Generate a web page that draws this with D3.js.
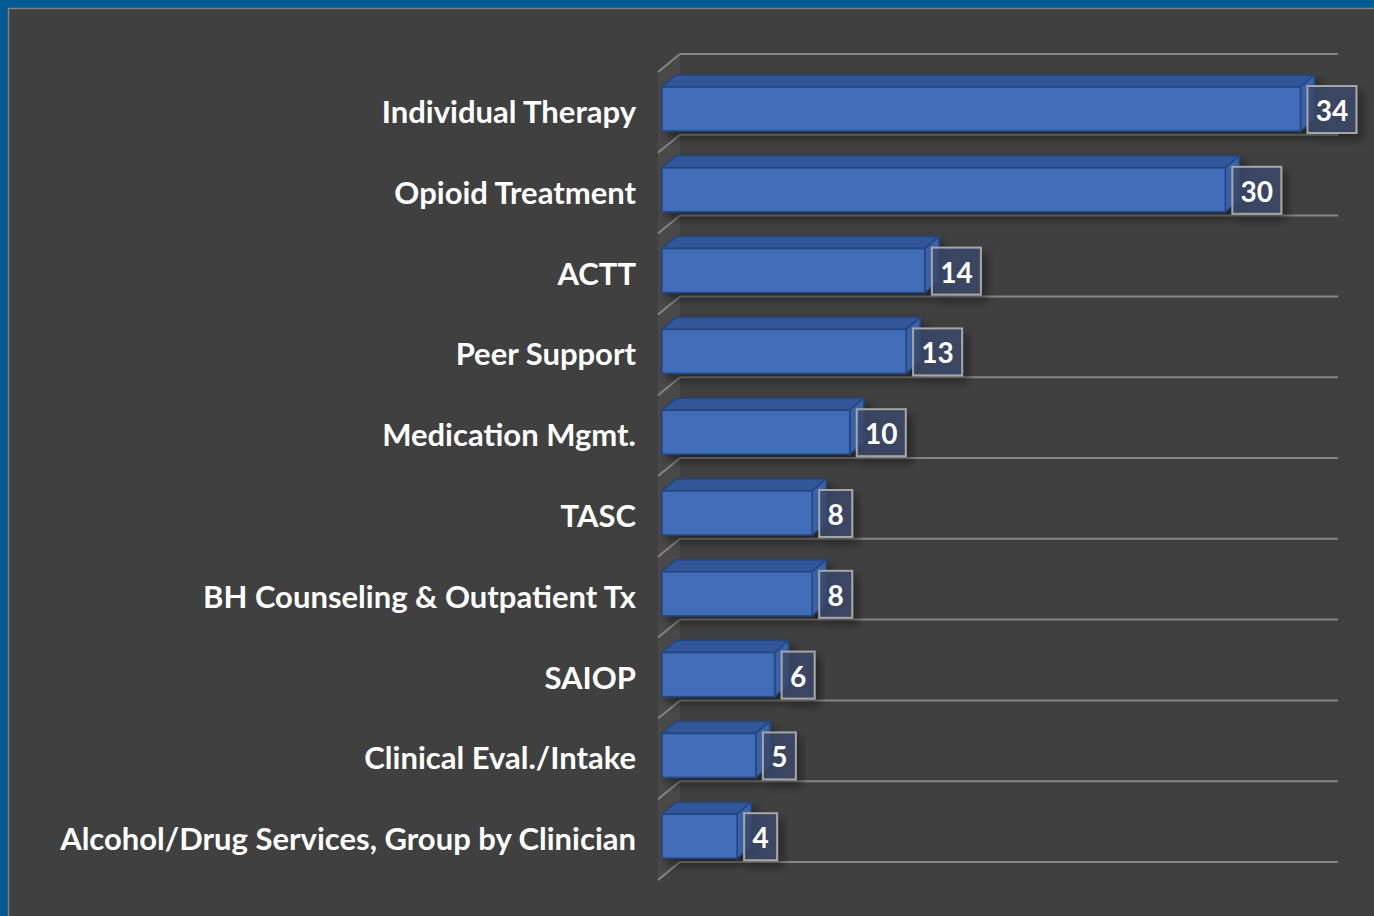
<!DOCTYPE html>
<html>
<head>
  <script src="https://d3js.org/d3.v7.min.js"></script>
  <style>
    body { margin: 0; background: #005a94; }
    .cat-label { font-family: Lato, "Open Sans", sans-serif; font-weight: bold; font-size: 31px; fill: #fff; }
    .val-label { font-family: Lato, "Open Sans", sans-serif; font-weight: bold; font-size: 28px; fill: #fff; }
  </style>
</head>
<body>
  <svg id="chart"></svg>
  <script>
    var categories = ["Individual Therapy", "Opioid Treatment", "ACTT", "Peer Support", "Medication Mgmt.",
      "TASC", "BH Counseling & Outpatient Tx", "SAIOP", "Clinical Eval./Intake", "Alcohol/Drug Services, Group by Clinician"];
    var values = [34, 30, 14, 13, 10, 8, 8, 6, 5, 4];

    var width = 1374, height = 916;
    var depthX = 14, depthY = -12;

    var svg = d3.select("#chart").attr("width", width).attr("height", height);

    var defs = svg.append("defs");
    var shadow = defs.append("filter").attr("id", "shadow")
      .attr("x", "-30%").attr("y", "-30%").attr("width", "160%").attr("height", "160%");
    shadow.append("feDropShadow").attr("dx", 5).attr("dy", 6).attr("stdDeviation", 5)
      .attr("flood-color", "#000").attr("flood-opacity", 0.45);

    // panel
    svg.append("rect")
      .attr("x", 8.5).attr("y", 8.5).attr("width", width).attr("height", height)
      .attr("fill", "#404040").attr("stroke", "#808080").attr("stroke-width", 1.5);

    var x = d3.scaleLinear().domain([0, 36]).range([662, 1338]);
    var y = d3.scaleBand().domain(categories).range([54, 862]).paddingInner(0);

    // left wall
    svg.append("path")
      .attr("d", "M658,72 L680,54 L680,862 L658,880 Z")
      .attr("fill", "#4a4848");

    // gridlines on back wall + diagonals
    var gridYs = categories.map(d => y(d)).concat([y.range()[1]]);
    var grid = svg.append("g");
    grid.selectAll(".grid-h")
      .data(gridYs)
      .enter()
      .append("line")
      .attr("x1", 680).attr("x2", x(36))
      .attr("y1", d => d).attr("y2", d => d)
      .attr("stroke", "#858585").attr("stroke-width", 2);
    grid.selectAll(".grid-d")
      .data(gridYs)
      .enter()
      .append("line")
      .attr("x1", 658).attr("x2", 680)
      .attr("y1", d => d + 18).attr("y2", d => d)
      .attr("stroke", "#858585").attr("stroke-width", 2);

    // bars
    var bars = svg.selectAll(".bar")
      .data(values)
      .enter()
      .append("g")
      .attr("class", "bar")
      .attr("filter", "url(#shadow)");

    var barTop = (d, i) => y(categories[i]) + 33;
    var barH = 44;

    // top face
    bars.append("path")
      .attr("d", function(d, i) {
        var x0 = x(0), x1 = x(d), t = barTop(d, i);
        return "M" + x0 + "," + t + " L" + (x0 + depthX) + "," + (t + depthY) +
          " L" + (x1 + depthX) + "," + (t + depthY) + " L" + x1 + "," + t + " Z";
      })
      .attr("fill", "#30569a").attr("stroke", "#24467f").attr("stroke-width", 1.5);

    // side face
    bars.append("path")
      .attr("d", function(d, i) {
        var x1 = x(d), t = barTop(d, i);
        return "M" + x1 + "," + t + " L" + (x1 + depthX) + "," + (t + depthY) +
          " L" + (x1 + depthX) + "," + (t + depthY + barH) + " L" + x1 + "," + (t + barH) + " Z";
      })
      .attr("fill", "#3a62aa").attr("stroke", "#24467f").attr("stroke-width", 1.5);

    // front face
    bars.append("rect")
      .attr("x", x(0))
      .attr("y", barTop)
      .attr("width", d => x(d) - x(0))
      .attr("height", barH)
      .attr("fill", "#416cb8").attr("stroke", "#24467f").attr("stroke-width", 1.5);

    // value label boxes
    var boxW = d => String(d).length > 1 ? 49 : 33;
    var labels = svg.selectAll(".val")
      .data(values)
      .enter()
      .append("g")
      .attr("class", "val");

    labels.append("rect")
      .attr("x", d => x(d) + 7)
      .attr("y", (d, i) => y(categories[i]) + 32)
      .attr("width", boxW)
      .attr("height", 47)
      .attr("fill", "#3c4a6a").attr("fill-opacity", 0.8)
      .attr("stroke", "#a6a6a6").attr("stroke-width", 2)
      .attr("filter", "url(#shadow)");

    labels.append("text")
      .attr("class", "val-label")
      .attr("x", d => x(d) + 7 + boxW(d) / 2)
      .attr("y", (d, i) => y(categories[i]) + 67)
      .attr("text-anchor", "middle")
      .text(d => d);

    // category labels
    svg.selectAll(".cat-label")
      .data(categories)
      .enter()
      .append("text")
      .attr("class", "cat-label")
      .attr("x", 636)
      .attr("y", d => y(d) + 69)
      .attr("text-anchor", "end")
      .text(d => d);
  </script>
</body>
</html>
